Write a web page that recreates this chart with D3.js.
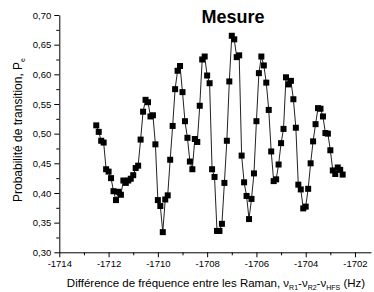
<!DOCTYPE html>
<html><head><meta charset="utf-8">
<script src="https://cdn.jsdelivr.net/npm/d3@7"></script>
<style>
html,body{margin:0;padding:0;background:#fff;}
svg{display:block;font-family:"Liberation Sans",Arial,sans-serif;}
</style></head>
<body><svg id="c" width="374" height="292"></svg>
<script>
const freqs = [
 -1712.5,-1712.4,-1712.3,-1712.2,-1712.1,-1712.0,-1711.9,-1711.8,-1711.7,-1711.6,
 -1711.5,-1711.4,-1711.3,-1711.2,-1711.1,-1711.0,-1710.9,-1710.8,-1710.7,-1710.6,
 -1710.5,-1710.4,-1710.3,-1710.2,-1710.1,-1710.0,-1709.9,-1709.8,-1709.7,-1709.6,
 -1709.5,-1709.4,-1709.3,-1709.2,-1709.1,-1709.0,-1708.9,-1708.8,-1708.7,-1708.6,
 -1708.5,-1708.4,-1708.3,-1708.2,-1708.1,-1708.0,-1707.9,-1707.8,-1707.7,-1707.6,
 -1707.5,-1707.4,-1707.3,-1707.2,-1707.1,-1707.0,-1706.9,-1706.8,-1706.7,-1706.6,
 -1706.5,-1706.4,-1706.3,-1706.2,-1706.1,-1706.0,-1705.9,-1705.8,-1705.7,-1705.6,
 -1705.5,-1705.4,-1705.3,-1705.2,-1705.1,-1705.0,-1704.9,-1704.8,-1704.7,-1704.6,
 -1704.5,-1704.4,-1704.3,-1704.2,-1704.1,-1704.0,-1703.9,-1703.8,-1703.7,-1703.6,
 -1703.5,-1703.4,-1703.3,-1703.2,-1703.1,-1703.0,-1702.9,-1702.8,-1702.7,-1702.6,
 -1702.5];
const probs = [
 0.514,0.503,0.488,0.485,0.440,0.436,0.425,0.403,0.388,0.402,
 0.397,0.421,0.417,0.421,0.424,0.430,0.442,0.446,0.490,0.537,
 0.557,0.553,0.529,0.531,0.482,0.388,0.378,0.334,0.389,0.396,
 0.456,0.513,0.575,0.606,0.614,0.570,0.521,0.493,0.453,0.440,
 0.491,0.486,0.547,0.625,0.630,0.598,0.585,0.440,0.427,0.336,
 0.336,0.348,0.417,0.488,0.588,0.665,0.659,0.629,0.632,0.463,
 0.418,0.395,0.356,0.390,0.433,0.521,0.602,0.630,0.615,0.586,
 0.540,0.470,0.420,0.423,0.448,0.484,0.508,0.595,0.583,0.589,
 0.558,0.510,0.414,0.406,0.374,0.377,0.407,0.450,0.487,0.516,
 0.543,0.542,0.529,0.501,0.500,0.472,0.438,0.432,0.443,0.439,
 0.431];
const xMajor = [-1714,-1712,-1710,-1708,-1706,-1704,-1702];
const xLabels = ["-1714","-1712","-1710","-1708","-1706","-1704","-1702"];
const xMinor = [-1713,-1711,-1709,-1707,-1705,-1703];
const yMajor = [0.30,0.35,0.40,0.45,0.50,0.55,0.60,0.65,0.70];
const yLabels = ["0,30","0,35","0,40","0,45","0,50","0,55","0,60","0,65","0,70"];
const yMinor = [0.325,0.375,0.425,0.475,0.525,0.575,0.625,0.675];
const title = "Mesure";

const svg = d3.select("#c");
const x = d3.scaleLinear().domain([-1714, -1701.35]).range([59.3, 371]);
const y = d3.scaleLinear().domain([0.30, 0.70]).range([252.3, 15]);

// minor ticks
svg.append("g").attr("transform","translate(0,252.3)")
  .call(d3.axisBottom(x).tickValues(xMinor).tickSize(3).tickFormat(""))
  .call(g=>g.select(".domain").remove());
svg.append("g").attr("transform","translate(59.3,0)")
  .call(d3.axisLeft(y).tickValues(yMinor).tickSize(3).tickFormat(""))
  .call(g=>g.select(".domain").remove());

const gx = svg.append("g").attr("transform","translate(0,252.3)")
  .call(d3.axisBottom(x).tickValues(xMajor).tickSize(5).tickSizeOuter(0).tickPadding(3)
        .tickFormat((d,i)=>xLabels[i]));
gx.selectAll("text").attr("font-size",9.5).attr("font-family","Liberation Sans, Arial").attr("fill","#000");
const gy = svg.append("g").attr("transform","translate(59.3,0)")
  .call(d3.axisLeft(y).tickValues(yMajor).tickSize(5).tickSizeOuter(0).tickPadding(3)
        .tickFormat((d,i)=>yLabels[i]));
gy.selectAll("text").attr("font-size",9.5).attr("font-family","Liberation Sans, Arial").attr("fill","#000");
svg.selectAll(".domain, .tick line").attr("stroke","#000").attr("stroke-width",1);

const pts = freqs.map((f,i)=>[f, probs[i]]);
svg.append("path").datum(pts)
  .attr("fill","none").attr("stroke","#222").attr("stroke-width",1)
  .attr("d", d3.line().x(d=>x(d[0])).y(d=>y(d[1])));
const s = 6;
svg.append("g").selectAll("rect").data(pts).join("rect")
  .attr("x", d=>x(d[0])-s/2).attr("y", d=>y(d[1])-s/2)
  .attr("width", s).attr("height", s).attr("fill","#000");

svg.append("text").attr("x",233).attr("y",23).attr("text-anchor","middle")
  .attr("font-size",18).attr("font-weight","bold").text(title);

// x title
const xt = svg.append("text").attr("x",216).attr("y",287).attr("text-anchor","middle")
  .attr("font-size",11.5).attr("fill","#000");
xt.append("tspan").text("Différence de fréquence entre les Raman, ν");
xt.append("tspan").attr("font-size",7).attr("dy",3).text("R1");
xt.append("tspan").attr("dy",-3).text("-ν");
xt.append("tspan").attr("font-size",7).attr("dy",3).text("R2");
xt.append("tspan").attr("dy",-3).text("-ν");
xt.append("tspan").attr("font-size",7).attr("dy",3).text("HFS");
xt.append("tspan").attr("dy",-3).text(" (Hz)");

// y title
const yt = svg.append("text").attr("transform","translate(22,130) rotate(-90)")
  .attr("text-anchor","middle").attr("font-size",12).attr("fill","#000");
yt.append("tspan").text("Probabilité de transition, P");
yt.append("tspan").attr("font-size",7).attr("dy",3).text("e");
</script></body></html>
